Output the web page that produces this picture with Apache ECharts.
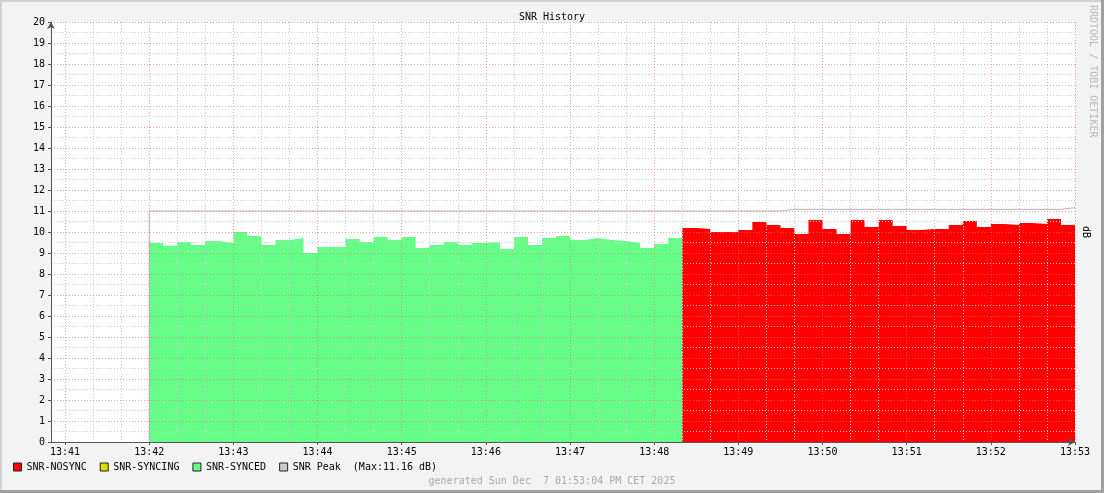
<!DOCTYPE html>
<html><head><meta charset="utf-8">
<script src="https://cdn.jsdelivr.net/npm/echarts@6/dist/echarts.min.js"></script>
<style>
html,body{margin:0;padding:0;background:#f3f3f3;}
#wrap{position:relative;width:1104px;height:493px;overflow:hidden;}
#chart{position:absolute;left:0;top:0;width:1104px;height:493px;}
.b{position:absolute;pointer-events:none;}
</style></head><body>
<div id="wrap"><div id="chart"></div>
<div class="b" style="left:0;top:0;width:1104px;height:2px;background:#d2d2d2"></div>
<div class="b" style="left:0;top:0;width:2px;height:493px;background:#d2d2d2"></div>
<div class="b" style="right:0;top:0;width:3px;height:493px;background:#a0a0a0"></div>
<div class="b" style="left:0;bottom:0;width:1104px;height:3px;background:#a0a0a0"></div>
</div>
<script>
// ---- data ----
const timeLabels = ['13:41','13:42','13:43','13:44','13:45','13:46','13:47','13:48','13:49','13:50','13:51','13:52','13:53'];
const axisStart = '13:40:50';
const axisEnd = '13:53:00';
const stepSeconds = 10;
const minorGridSeconds = 20;

const syncedStart = '13:42:00';
const syncedValues = [9.48, 9.35, 9.52, 9.38, 9.57, 9.48, 10.0, 9.81, 9.38, 9.62,
  9.71, 9.0, 9.29, 9.29, 9.67, 9.52, 9.76, 9.62, 9.76, 9.24,
  9.38, 9.52, 9.38, 9.48, 9.52, 9.19, 9.76, 9.38, 9.71, 9.81,
  9.62, 9.71, 9.62, 9.57, 9.48, 9.24, 9.43, 9.71];

const nosyncStart = '13:48:20';
const nosyncValues = [10.19, 10.14, 10.0, 10.0, 10.1, 10.48, 10.33, 10.19, 9.90, 10.57,
  10.14, 9.90, 10.57, 10.24, 10.57, 10.29, 10.1, 10.14, 10.14, 10.33,
  10.52, 10.24, 10.38, 10.33, 10.43, 10.38, 10.62, 10.33];

const syncingValues = [];

const peakStart = '13:42:00';
const peakValues = [11.0, 11.0, 11.0, 11.0, 11.0, 11.0, 11.0, 11.0, 11.0, 11.0,
  11.0, 11.0, 11.0, 11.0, 11.0, 11.0, 11.0, 11.0, 11.0, 11.0,
  11.0, 11.0, 11.0, 11.0, 11.0, 11.0, 11.0, 11.0, 11.0, 11.0,
  11.0, 11.0, 11.0, 11.0, 11.0, 11.0, 11.0, 11.0, 11.0, 11.0,
  11.0, 11.0, 11.0, 11.0, 11.0, 11.08, 11.08, 11.08, 11.08, 11.08,
  11.08, 11.08, 11.08, 11.08, 11.08, 11.08, 11.08, 11.08, 11.08, 11.08,
  11.08, 11.08, 11.08, 11.08, 11.08, 11.16];

const generatedText = 'generated Sun Dec  7 01:53:04 PM CET 2025';

// ---- helpers ----
function toSec(s) { const p = s.split(':').map(Number); return p[0] * 3600 + p[1] * 60 + (p[2] || 0); }
function fmt(v) { const h = Math.floor(v / 3600), m = Math.floor((v % 3600) / 60); return String(h).padStart(2, '0') + ':' + String(m).padStart(2, '0'); }
function steps(start, vals) {
  const s0 = toSec(start);
  const d = vals.map((v, i) => [s0 + i * stepSeconds, v]);
  if (vals.length) d.push([s0 + vals.length * stepSeconds, vals[vals.length - 1]]);
  return d;
}
const xMin = toSec(axisStart), xMax = toSec(axisEnd);
const minuteTicks = timeLabels.map(toSec);
const minorTicks = [];
for (let t = minuteTicks[0]; t <= xMax; t += minorGridSeconds) if (t % 60 !== 0) minorTicks.push(t);
const peakData = [[toSec(peakStart), 0]].concat(steps(peakStart, peakValues));
const peakMax = Math.max.apply(null, peakValues);

const FONT = 'DejaVu Sans Mono';
const chart = echarts.init(document.getElementById('chart'), null, { renderer: 'canvas' });
chart.setOption({
  backgroundColor: '#f3f3f3',
  animation: false,
  title: { text: 'SNR History', left: 'center', top: 7, textStyle: { fontFamily: FONT, fontSize: 10, fontWeight: 'normal', color: '#000' } },
  grid: { left: 51, top: 22, right: 29, bottom: 51, show: true, backgroundColor: '#ffffff', borderWidth: 0, containLabel: false },
  legend: {
    left: 13, top: 462, itemWidth: 8, itemHeight: 8, itemGap: 13, icon: 'rect', padding: 0,
    selectedMode: false,
    itemStyle: { borderColor: '#222', borderWidth: 1 },
    textStyle: { fontFamily: FONT, fontSize: 10, color: '#000', padding: [0, 0, 0, 0] },
    formatter: function (n) { return n === 'SNR Peak' ? 'SNR Peak  (Max:' + peakMax.toFixed(2) + ' dB)' : n; },
    data: [
      { name: 'SNR-NOSYNC', itemStyle: { color: '#ff0000' } },
      { name: 'SNR-SYNCING', itemStyle: { color: '#dddd00' } },
      { name: 'SNR-SYNCED', itemStyle: { color: '#66ff88' } },
      { name: 'SNR Peak', itemStyle: { color: '#cccccc' } }
    ]
  },
  xAxis: [{
    type: 'value', min: xMin, max: xMax, z: 3,
    axisLine: { show: true, lineStyle: { color: '#555', width: 1 }, symbol: ['none', 'arrow'], symbolSize: [6, 7] },
    axisTick: { show: true, customValues: minuteTicks, length: 3, lineStyle: { color: '#555' } },
    axisLabel: { customValues: minuteTicks, formatter: fmt, fontFamily: FONT, fontSize: 10, color: '#000', margin: 5 },
    splitLine: { show: true, lineStyle: { color: 'rgba(240,110,110,0.6)', type: [1, 2], width: 1 } }
  }, {
    type: 'value', min: xMin, max: xMax, z: 2, position: 'bottom', gridIndex: 0,
    axisLine: { show: false },
    axisTick: { show: false, customValues: minorTicks },
    axisLabel: { show: false },
    splitLine: { show: true, lineStyle: { color: '#cccccc', type: [1, 2], width: 1 } }
  }],
  yAxis: {
    type: 'value', min: 0, max: 20, interval: 1, z: 3,
    axisLine: { show: true, lineStyle: { color: '#555', width: 1 }, symbol: ['none', 'arrow'], symbolSize: [6, 7] },
    axisTick: { show: true, length: 3, lineStyle: { color: '#555' } },
    axisLabel: { fontFamily: FONT, fontSize: 10, color: '#000', margin: 6 },
    splitLine: { show: true, lineStyle: { color: 'rgba(240,110,110,0.6)', type: [1, 2], width: 1 } },
    minorTick: { show: false, splitNumber: 2 },
    minorSplitLine: { show: true, lineStyle: { color: '#cccccc', type: [1, 2], width: 1 } }
  },
  series: [
    { name: 'SNR-SYNCED', type: 'line', step: 'end', symbol: 'none', color: '#66ff88', z: 1,
      lineStyle: { width: 0 }, areaStyle: { color: '#66ff88', opacity: 1 }, data: steps(syncedStart, syncedValues) },
    { name: 'SNR-NOSYNC', type: 'line', step: 'end', symbol: 'none', color: '#ff0000', z: 1,
      lineStyle: { width: 0 }, areaStyle: { color: '#ff0000', opacity: 1 }, data: steps(nosyncStart, nosyncValues) },
    { name: 'SNR-SYNCING', type: 'line', step: 'end', symbol: 'none', color: '#dddd00', z: 1,
      lineStyle: { width: 0 }, areaStyle: { color: '#dddd00', opacity: 1 }, data: steps(nosyncStart, syncingValues) },
    { name: 'SNR Peak', type: 'line', step: 'end', symbol: 'none', color: '#b4b4b4', z: 2,
      lineStyle: { width: 1, color: '#b4b4b4' }, data: peakData }
  ],
  graphic: [
    { type: 'text', x: 1093, y: 5, rotation: -Math.PI / 2,
      style: { text: 'RRDTOOL / TOBI OETIKER', fill: '#b8b8b8', font: '10px "DejaVu Sans Mono"', textAlign: 'left', textVerticalAlign: 'middle' } },
    { type: 'text', x: 1086, y: 232, rotation: -Math.PI / 2,
      style: { text: 'dB', fill: '#000', font: '10px "DejaVu Sans Mono"', textAlign: 'center', textVerticalAlign: 'middle' } },
    { type: 'text', x: 552, y: 481,
      style: { text: generatedText, fill: '#aaaaaa', font: '10px "DejaVu Sans Mono"', textAlign: 'center', textVerticalAlign: 'middle' } }
  ]
});
</script>
</body></html>
